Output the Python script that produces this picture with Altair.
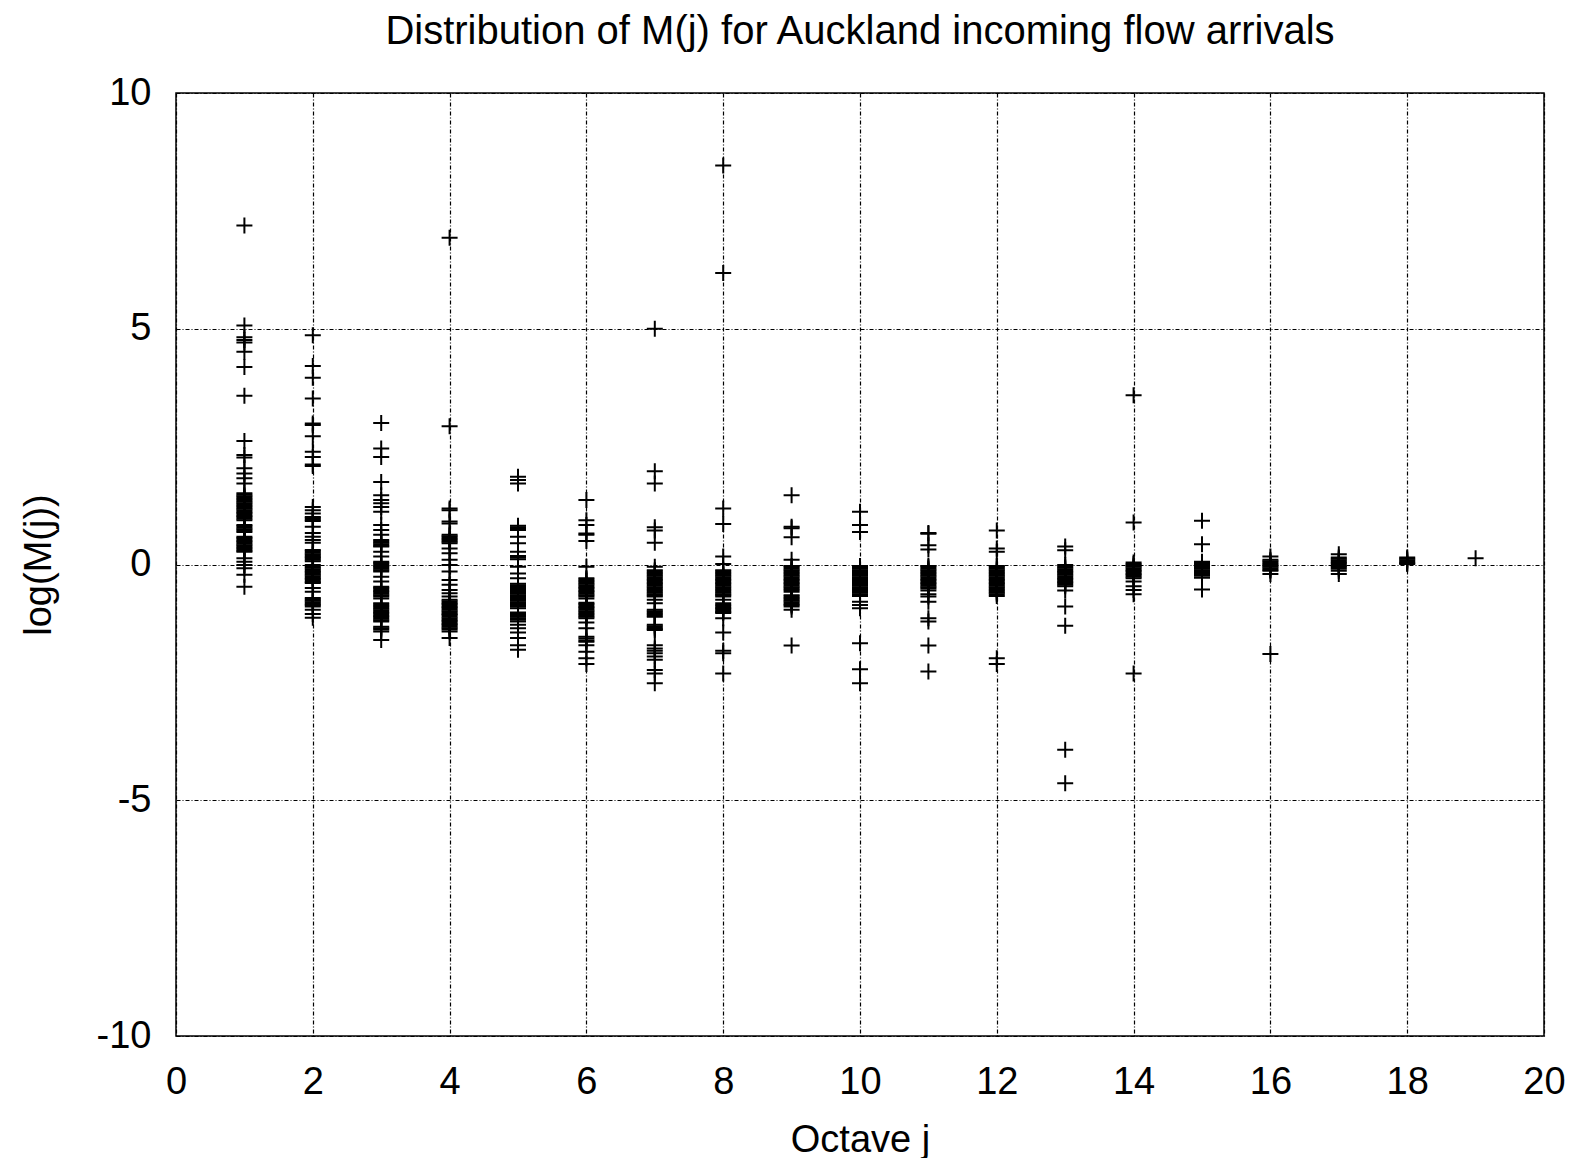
import altair as alt
import pandas as pd

octave_1 = [7.19, 5.07, 4.82, 4.76, 4.71, 4.51, 4.19, 3.58, 2.62, 2.32, 2.27, 2.04, 1.93, 1.83, 1.72,
            1.51, 1.48, 1.45, 1.42, 1.39, 1.36, 1.33, 1.30, 1.27, 1.24, 1.21, 1.18, 1.15, 1.12, 1.09,
            1.06, 1.03, 1.00, 0.97, 0.94, 0.84, 0.81, 0.78, 0.75, 0.72, 0.69,
            0.59, 0.56, 0.53, 0.50, 0.47, 0.44, 0.41, 0.38, 0.35, 0.32, 0.29, 0.27,
            0.13, 0.06, -0.01, -0.08, -0.22, -0.47]
octave_2 = [4.86, 4.21, 3.96, 3.52, 2.99, 2.96, 2.72, 2.39, 2.28, 2.12, 2.09, 1.22, 1.15, 1.08,
            1.01, 0.98, 0.95, 0.92, 0.80, 0.67, 0.59, 0.52, 0.46,
            0.31, 0.28, 0.25, 0.22, 0.19, 0.16, 0.13, 0.10, 0.07,
            -0.01, -0.04, -0.07, -0.10, -0.13, -0.16, -0.19, -0.22, -0.25, -0.28, -0.31, -0.34, -0.37, -0.39,
            -0.50, -0.58, -0.71, -0.74, -0.77, -0.80, -0.83, -0.86, -0.89, -0.96, -1.05, -1.13]
octave_3 = [3.00, 2.46, 2.28, 1.75, 1.47, 1.37, 1.30, 1.22, 1.12, 0.84, 0.73, 0.63,
            0.52, 0.49, 0.46, 0.43, 0.40, 0.38, 0.27, 0.17,
            0.06, 0.03, 0.00, -0.03, -0.06, -0.09, -0.12, -0.15, -0.26, -0.36,
            -0.47, -0.50, -0.53, -0.56, -0.59, -0.62, -0.65, -0.68, -0.72,
            -0.82, -0.85, -0.88, -0.91, -0.94, -0.97, -1.00, -1.03, -1.06, -1.09, -1.12, -1.15, -1.18, -1.21,
            -1.32, -1.35, -1.38, -1.42, -1.60]
octave_4 = [6.93, 2.93, 1.19, 1.15, 0.91, 0.87, 0.63, 0.60, 0.57, 0.54, 0.51, 0.48, 0.45, 0.34, 0.24,
            0.10, -0.01, -0.15, -0.33, -0.43, -0.54, -0.61, -0.68,
            -0.75, -0.78, -0.81, -0.84, -0.87, -0.90, -0.93, -0.96, -0.99, -1.02, -1.05, -1.07,
            -1.11, -1.14, -1.17, -1.20, -1.23, -1.26, -1.29, -1.32, -1.35, -1.38, -1.42, -1.56]
octave_5 = [1.86, 1.79, 1.72, 0.82, 0.79, 0.77, 0.73, 0.59, 0.45, 0.27, 0.18, 0.15, 0.11, -0.05, -0.19, -0.29,
            -0.41, -0.44, -0.47, -0.50, -0.53, -0.56, -0.59, -0.62, -0.65, -0.68, -0.71, -0.74, -0.77,
            -0.80, -0.83, -0.86, -0.89, -0.93,
            -1.02, -1.05, -1.08, -1.11, -1.14, -1.17, -1.21,
            -1.28, -1.35, -1.44, -1.56, -1.71, -1.81]
octave_6 = [1.37, 0.94, 0.84, 0.66, 0.63, 0.50, -0.05,
            -0.29, -0.32, -0.35, -0.38, -0.41, -0.44, -0.47, -0.50, -0.53, -0.56, -0.59, -0.62, -0.65, -0.68, -0.72,
            -0.81, -0.84, -0.87, -0.90, -0.93, -0.96, -0.99, -1.02, -1.05, -1.08, -1.11, -1.14,
            -1.23, -1.35, -1.53, -1.57, -1.61, -1.64, -1.71, -1.85, -1.99, -2.11]
octave_7 = [5.00, 1.98, 1.72, 0.79, 0.72, 0.46, -0.05,
            -0.12, -0.15, -0.18, -0.21, -0.24, -0.27, -0.30, -0.33, -0.36, -0.39, -0.42, -0.45, -0.48,
            -0.51, -0.54, -0.57, -0.60, -0.63, -0.66, -0.68, -0.75, -0.82,
            -0.96, -0.99, -1.02, -1.05, -1.08, -1.11, -1.28, -1.31, -1.34, -1.37, -1.39,
            -1.71, -1.78, -1.83, -1.88, -1.95, -2.02, -2.24, -2.31, -2.52]
octave_8 = [8.46, 6.18, 1.19, 0.86, 0.17, 0.01,
            -0.12, -0.15, -0.18, -0.21, -0.24, -0.27, -0.30, -0.33, -0.36, -0.39, -0.42, -0.45, -0.48,
            -0.51, -0.54, -0.57, -0.60, -0.63, -0.65, -0.68, -0.75, -0.82,
            -0.86, -0.89, -0.92, -0.95, -0.98, -1.01, -1.03, -1.14, -1.44, -1.83, -1.88, -2.31]
octave_9 = [1.47, 0.80, 0.77, 0.58, 0.10,
            -0.03, -0.06, -0.09, -0.12, -0.15, -0.18, -0.21, -0.24, -0.27, -0.30, -0.33, -0.36, -0.39,
            -0.42, -0.45, -0.48, -0.51, -0.54, -0.58,
            -0.65, -0.68, -0.71, -0.74, -0.77, -0.80, -0.83, -0.86, -0.89, -0.96, -1.72]
octave_10 = [1.12, 0.84, 0.69,
             -0.03, -0.06, -0.09, -0.12, -0.15, -0.18, -0.21, -0.24, -0.27, -0.30, -0.33, -0.36, -0.39,
             -0.42, -0.45, -0.48, -0.51, -0.54, -0.57, -0.60, -0.63, -0.67,
             -0.79, -0.86, -0.93, -1.67, -2.22, -2.52]
octave_11 = [0.67, 0.65, 0.41, 0.32,
             -0.03, -0.06, -0.09, -0.12, -0.15, -0.18, -0.21, -0.24, -0.27, -0.30, -0.33, -0.36, -0.39,
             -0.42, -0.45, -0.48, -0.51, -0.55,
             -0.63, -0.68, -0.79, -1.14, -1.21, -1.72, -2.27]
octave_12 = [0.72, 0.34, 0.27,
             -0.03, -0.06, -0.09, -0.12, -0.15, -0.18, -0.21, -0.24, -0.27, -0.30, -0.33, -0.36, -0.39,
             -0.42, -0.45, -0.48, -0.51, -0.54, -0.57, -0.60, -0.63, -0.67,
             -1.99, -2.11]
octave_13 = [0.38, 0.30, -0.01, -0.04, -0.07, -0.10, -0.13, -0.16, -0.19, -0.22, -0.25, -0.28, -0.31,
             -0.34, -0.37, -0.40, -0.43, -0.46, -0.55, -0.89, -1.30, -3.93, -4.64]
octave_14 = [3.59, 0.89, 0.04, 0.01, -0.02, -0.05, -0.08, -0.11, -0.14, -0.17, -0.20, -0.23, -0.26, -0.29,
             -0.36, -0.46, -0.54, -0.63, -2.31]
octave_15 = [0.93, 0.43, 0.06, 0.03, 0.00, -0.03, -0.06, -0.09, -0.12, -0.15, -0.18, -0.21, -0.24, -0.28, -0.53]
octave_16 = [0.17, 0.10, 0.07, 0.04, 0.01, -0.02, -0.05, -0.08, -0.11, -0.13, -0.20, -1.90]
octave_17 = [0.22, 0.15, 0.12, 0.09, 0.06, 0.03, 0.00, -0.03, -0.06, -0.09, -0.13, -0.20]
octave_18 = [0.15, 0.12, 0.09, 0.06, 0.03, 0.01]
octave_19 = [0.13]

x_ticks = list(range(0, 21, 2))
y_ticks = [-10, -5, 0, 5, 10]

octaves = [octave_1, octave_2, octave_3, octave_4, octave_5, octave_6, octave_7, octave_8, octave_9,
           octave_10, octave_11, octave_12, octave_13, octave_14, octave_15, octave_16, octave_17,
           octave_18, octave_19]
rows = []
for j, vals in enumerate(octaves, start=1):
    for v in vals:
        rows.append({"j": j, "m": v})
df = pd.DataFrame(rows)

PLUS = "M-1,0L1,0M0,-1L0,1"
FONT = "Liberation Sans"

chart = alt.Chart(df).mark_point(
    shape=PLUS, filled=False, color="black", strokeWidth=2.0, size=256, opacity=1
).encode(
    x=alt.X("j:Q", scale=alt.Scale(domain=[0, 20], nice=False, zero=False),
            axis=alt.Axis(values=x_ticks, title="Octave j", labelPadding=27, titlePadding=20,
                          labelFlush=False, labelExpr="datum.value + ''")),
    y=alt.Y("m:Q", scale=alt.Scale(domain=[-10, 10], nice=False),
            axis=alt.Axis(values=y_ticks, title="log(M(j))", labelPadding=25, titlePadding=38,
                          labelFlush=False, labelExpr="datum.value + ''")),
).properties(
    width=1368, height=943,
    title=alt.TitleParams(text="Distribution of M(j) for Auckland incoming flow arrivals",
                          font=FONT, fontSize=40, fontWeight="normal", color="black",
                          anchor="middle", offset=22),
    autosize=alt.AutoSizeParams(type="none"),
    padding={"left": 168, "top": 85, "right": 24, "bottom": 122},
).configure_view(
    stroke="black", strokeWidth=1.5
).configure_axis(
    grid=True, gridColor="black", gridDash=[4, 2, 1, 2], gridOpacity=1, gridWidth=1.2,
    domain=False, ticks=False, tickSize=0,
    labelFont=FONT, labelFontSize=38, labelColor="black",
    titleFont=FONT, titleFontSize=38, titleFontWeight="normal", titleColor="black",
)

chart.save("out.html", embed_options={"renderer": "svg", "actions": False})
